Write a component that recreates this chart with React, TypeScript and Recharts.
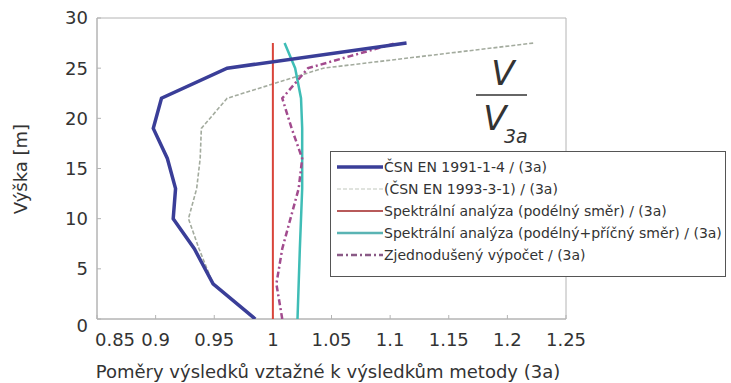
import React from "react";
import { ScatterChart, Scatter, XAxis, YAxis, ReferenceArea } from "recharts";

// heights along the tower [m]
const heights = [0, 3.5, 7, 10, 13, 16, 19, 22, 25, 27.5];

// ratios to method (3a), one value per height
const ratioCsn1991 = [0.985, 0.949, 0.933, 0.915, 0.917, 0.91, 0.898, 0.905, 0.961, 1.114];
const ratioCsn1993 = [0.985, 0.949, 0.937, 0.928, 0.935, 0.938, 0.939, 0.961, 1.043, 1.222];
const ratioSpectralLong = [1, 1, 1, 1, 1, 1, 1, 1, 1, 1];
const ratioSpectralBoth = [1.021, 1.022, 1.023, 1.024, 1.025, 1.025, 1.025, 1.024, 1.019, 1.01];
const ratioSimplified = [1.008, 1.003, 1.008, 1.015, 1.022, 1.025, 1.016, 1.008, 1.03, 1.105];

const xTicks = [0.85, 0.9, 0.95, 1, 1.05, 1.1, 1.15, 1.2, 1.25];
const yTicks = [0, 5, 10, 15, 20, 25, 30];

const FONT = "'DejaVu Sans', sans-serif";
const AXIS = "#b4b4b4";
const TEXT = "#333";

const series = [
    { name: "(ČSN EN 1993-3-1) / (3a)", values: ratioCsn1993, color: "#a3ab9e", width: 1.6, dash: "4 2", legendColor: "#d6dad3" },
    { name: "Spektrální analýza (podélný směr) / (3a)", values: ratioSpectralLong, color: "#d9443a", width: 2, dash: undefined, legendColor: "#b85a5a" },
    { name: "Spektrální analýza (podélný+příčný směr) / (3a)", values: ratioSpectralBoth, color: "#3fbdb6", width: 2.5, dash: undefined, legendColor: "#5ab4b4" },
    { name: "Zjednodušený výpočet / (3a)", values: ratioSimplified, color: "#a24b8e", width: 2.5, dash: "6 3 2 3", legendColor: "#8a5a86" },
    { name: "ČSN EN 1991-1-4 / (3a)", values: ratioCsn1991, color: "#3a3e98", width: 3.5, dash: undefined, legendColor: "#3a3e98" },
];

const legendOrder = [4, 0, 1, 2, 3];

function XTick(props: any) {
    const { x, y, payload } = props;
    const shift = payload.value === 0.85 ? 18 : 0;
    return (
        <text x={x + shift} y={y} dy="0.71em" textAnchor="middle" fill={TEXT} fontSize={18} fontFamily={FONT}>
            {payload.value}
        </text>
    );
}

function YTick(props: any) {
    const { x, y, payload } = props;
    const shift = payload.value === 0 ? 7 : 0;
    return (
        <text x={x} y={y + shift} dy="0.355em" textAnchor="end" fill={TEXT} fontSize={18} fontFamily={FONT}>
            {payload.value}
        </text>
    );
}

export default function App() {
    return (
        <div style={{ position: "absolute", left: 0, top: 0, width: 731, height: 383, background: "#fff" }}>
            <ScatterChart width={731} height={383} margin={{ top: 18, right: 165, bottom: 20, left: 37 }}>
                <XAxis
                    dataKey="x"
                    type="number"
                    domain={[0.85, 1.25]}
                    ticks={xTicks}
                    allowDataOverflow
                    height={44}
                    stroke={AXIS}
                    tickSize={-4}
                    tickMargin={18}
                    tick={<XTick />}
                />
                <YAxis
                    dataKey="y"
                    type="number"
                    domain={[0, 30]}
                    ticks={yTicks}
                    allowDataOverflow
                    width={60}
                    stroke={AXIS}
                    tickSize={-4}
                    tickMargin={13}
                    tick={<YTick />}
                />
                {/* box frame around the plot */}
                <ReferenceArea
                    x1={xTicks[0]}
                    x2={xTicks[xTicks.length - 1]}
                    y1={yTicks[0]}
                    y2={yTicks[yTicks.length - 1]}
                    fill="none"
                    fillOpacity={0}
                    stroke={AXIS}
                    strokeWidth={1}
                    ifOverflow="visible"
                />
                {series.map((s) => (
                    <Scatter
                        key={s.name}
                        name={s.name}
                        data={heights.map((h, i) => ({ x: s.values[i], y: h }))}
                        line={{ stroke: s.color, strokeWidth: s.width, strokeDasharray: s.dash }}
                        lineType="joint"
                        shape={() => <g />}
                        isAnimationActive={false}
                    />
                ))}
            </ScatterChart>

            <svg width={731} height={383} style={{ position: "absolute", left: 0, top: 0, pointerEvents: "none" }}>
                <text x={328} y={378} textAnchor="middle" fontSize={18} fill={TEXT} fontFamily={FONT}>
                    Poměry výsledků vztažné k výsledkům metody (3a)
                </text>
                <text x={27} y={169} transform="rotate(-90 27 169)" textAnchor="middle" fontSize={18} fill={TEXT} fontFamily={FONT}>
                    Výška [m]
                </text>
                <text x={503} y={85} textAnchor="middle" fontSize={34} fontStyle="italic" fill={TEXT} fontFamily={FONT}>V</text>
                <line x1={476} x2={527} y1={95} y2={95} stroke="#666" strokeWidth={2} />
                <text x={495} y={130} textAnchor="middle" fontSize={34} fontStyle="italic" fill={TEXT} fontFamily={FONT}>V</text>
                <text x={504} y={143} fontSize={19} fontStyle="italic" fill={TEXT} fontFamily={FONT}>3a</text>
            </svg>

            <div
                style={{
                    position: "absolute",
                    left: 330,
                    top: 151,
                    width: 396,
                    height: 126,
                    border: "1.5px solid #555",
                    background: "#fff",
                    fontFamily: FONT,
                    fontSize: 14,
                    color: TEXT,
                    paddingTop: 4,
                    boxSizing: "border-box",
                }}
            >
                {legendOrder.map((idx) => {
                    const s = series[idx];
                    return (
                        <div key={s.name} style={{ display: "flex", alignItems: "center", height: 22 }}>
                            <svg width={54} height={10} style={{ marginLeft: 5 }}>
                                <line x1={1} x2={47} y1={5} y2={5} stroke={s.legendColor} strokeWidth={s.width} strokeDasharray={s.dash} />
                            </svg>
                            <span style={{ marginLeft: -6, whiteSpace: "nowrap" }}>{s.name}</span>
                        </div>
                    );
                })}
            </div>
        </div>
    );
}
